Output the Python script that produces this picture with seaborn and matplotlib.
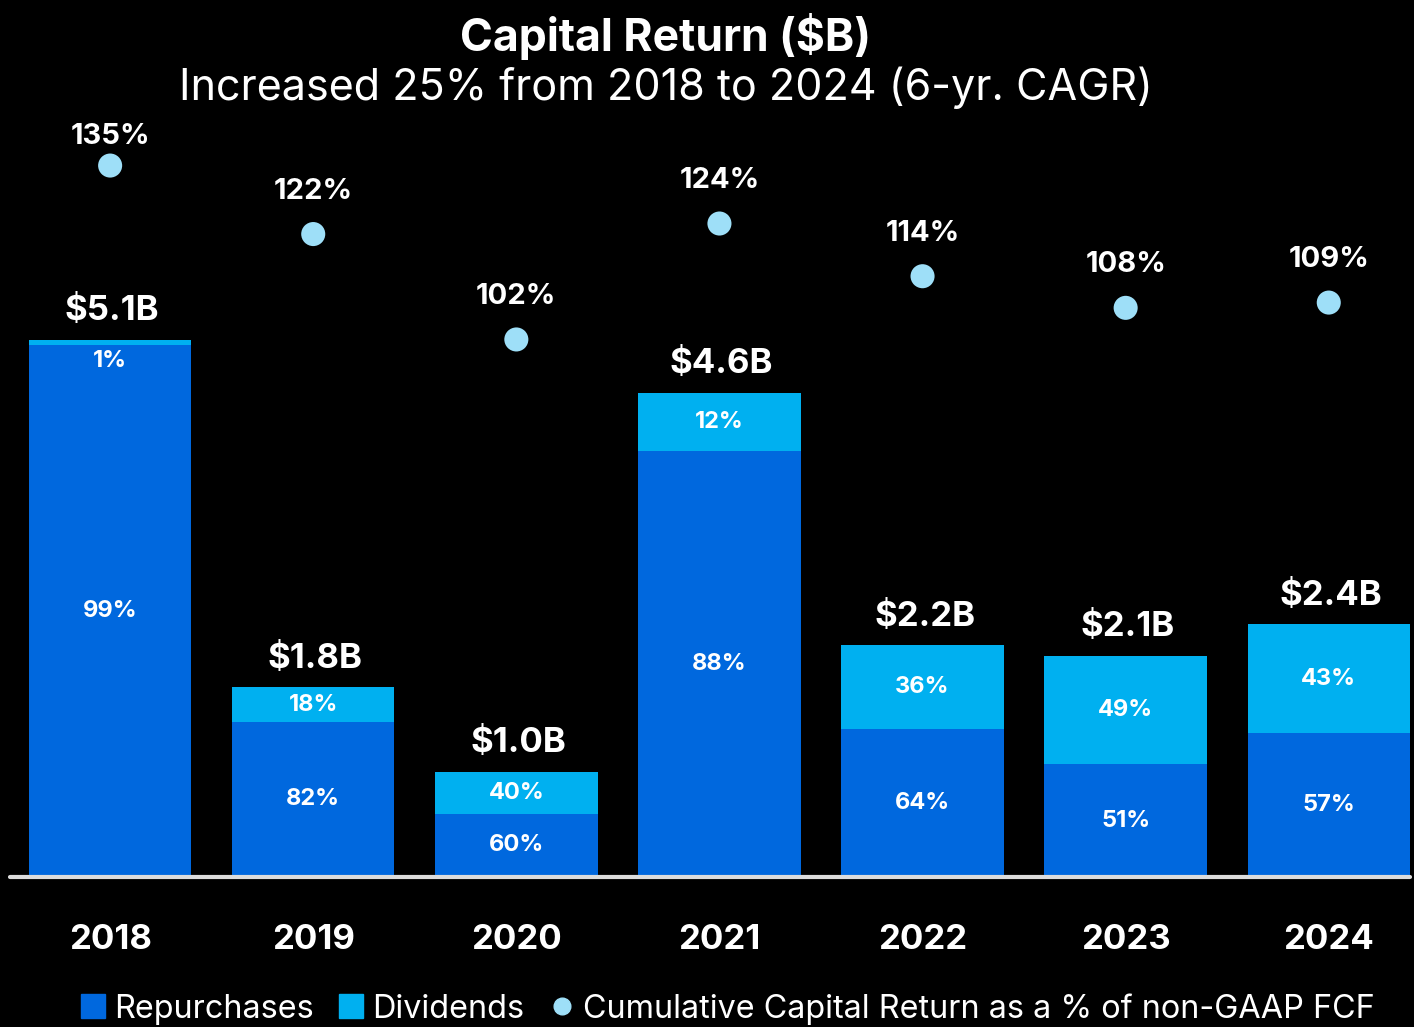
import numpy as np
import pandas as pd
import matplotlib
matplotlib.use("Agg")
import matplotlib.pyplot as plt
from matplotlib.lines import Line2D
import seaborn as sns

# ---- data ----
years = ["2018", "2019", "2020", "2021", "2022", "2023", "2024"]
total_return = [5.1, 1.8, 1.0, 4.6, 2.2, 2.1, 2.4]          # $B
repurchase_pct = [99, 82, 60, 88, 64, 51, 57]               # share of total, %
dividend_pct = [1, 18, 40, 12, 36, 49, 43]                  # share of total, %
cum_return_pct_fcf = [135, 122, 102, 124, 114, 108, 109]    # % of non-GAAP FCF

REP_COLOR = "#0068DE"
DIV_COLOR = "#00B0F0"
DOT_COLOR = "#9EDFF8"
FONT = "Inter"

df = pd.DataFrame({
    "year": years,
    "total": total_return,
    "rep_pct": repurchase_pct,
    "div_pct": dividend_pct,
    "cum": cum_return_pct_fcf,
})
df["repurchases"] = df["total"] * df["rep_pct"] / 100.0
df["pos"] = np.arange(len(df))

sns.set_theme(style="white")
plt.rcParams["font.family"] = [FONT, "DejaVu Sans"]

W, H = 1414, 1027
fig = plt.figure(figsize=(W / 100, H / 100), dpi=100, facecolor="black")
base_y = 877
px_per_b = 105.3       # pixels per $B on the bar scale
px_per_pct = 5.27      # pixels per % on the dot scale
ax = fig.add_axes([10 / W, (H - base_y) / H, 1400 / W, base_y / H])
ax.set_facecolor("black")

# stacked bars: full height in dividend colour, repurchases drawn over the lower part
sns.barplot(data=df, x="year", y="total", color=DIV_COLOR, width=0.8,
            saturation=1, ax=ax, edgecolor="none")
sns.barplot(data=df, x="year", y="repurchases", color=REP_COLOR, width=0.8,
            saturation=1, ax=ax, edgecolor="none")

ax.set_xlim(-0.493, 6.40)
ax.set_ylim(0, base_y / px_per_b)
ax.axhline(0, color="#DDDDDD", lw=3, clip_on=False, zorder=5)

for i, r in df.iterrows():
    # total label above each bar
    ax.annotate(f"${r['total']:.1f}B", (r["pos"], r["total"]), xytext=(1.5, 9),
                textcoords="offset points", ha="center", va="bottom",
                color="white", fontsize=25, fontweight="bold")
    # repurchase share in the middle of its segment
    ax.text(r["pos"], r["repurchases"] / 2, f"{r['rep_pct']}%", ha="center",
            va="center", color="white", fontsize=17, fontweight="bold")
    # dividend share in its segment (just under the top when the segment is thin)
    seg = r["total"] - r["repurchases"]
    y_div = r["repurchases"] + seg / 2 if seg > 0.25 else r["total"] - 0.2
    ax.text(r["pos"], y_div, f"{r['div_pct']}%", ha="center", va="center",
            color="white", fontsize=17, fontweight="bold")

ax.set_xticks(range(len(years)))
ax.set_xticklabels(years, color="white", fontsize=25, fontweight="bold")
ax.tick_params(axis="x", length=0, pad=34)
ax.set_yticks([])
ax.set_xlabel("")
ax.set_ylabel("")

# cumulative capital return as % of FCF on a secondary scale
ax2 = ax.twinx()
ax2.set_ylim(0, base_y / px_per_pct)
sns.scatterplot(data=df, x="pos", y="cum", color=DOT_COLOR, s=300,
                edgecolor="none", ax=ax2, zorder=6)
label_top = (base_y - 136) / px_per_pct   # keep labels clear of the subtitle
for i, r in df.iterrows():
    y_lab = min(r["cum"] + 43 / px_per_pct, label_top)
    ax2.text(r["pos"], y_lab, f"{r['cum']}%", ha="center", va="center",
             color="white", fontsize=21, fontweight="bold")
ax2.set_yticks([])
ax2.set_ylabel("")
ax2.set_xlabel("")
ax2.set_xlim(ax.get_xlim())
for a in (ax, ax2):
    for s in a.spines.values():
        s.set_visible(False)

# titles
fig.text(0.471, 1 - 36 / H, "Capital Return ($B)", ha="center", va="center",
         color="white", fontsize=32, fontweight="bold")
fig.text(0.471, 1 - 88 / H, "Increased 25% from 2018 to 2024 (6-yr. CAGR)",
         ha="center", va="center", color="white", fontsize=31)

# legend
handles = [
    Line2D([], [], marker="s", ls="none", color=REP_COLOR, markersize=17),
    Line2D([], [], marker="s", ls="none", color=DIV_COLOR, markersize=17),
    Line2D([], [], marker="o", ls="none", color=DOT_COLOR, markersize=12),
]
labels = ["Repurchases", "Dividends",
          "Cumulative Capital Return as a % of non-GAAP FCF"]
fig.legend(handles, labels, loc="center", bbox_to_anchor=(0.515, 1 - 1009 / H),
           ncol=3, frameon=False, fontsize=23.3, handlelength=0.7,
           handletextpad=0.3, columnspacing=0.8, labelcolor="white")

fig.savefig("out.png", dpi=100, facecolor="black")
